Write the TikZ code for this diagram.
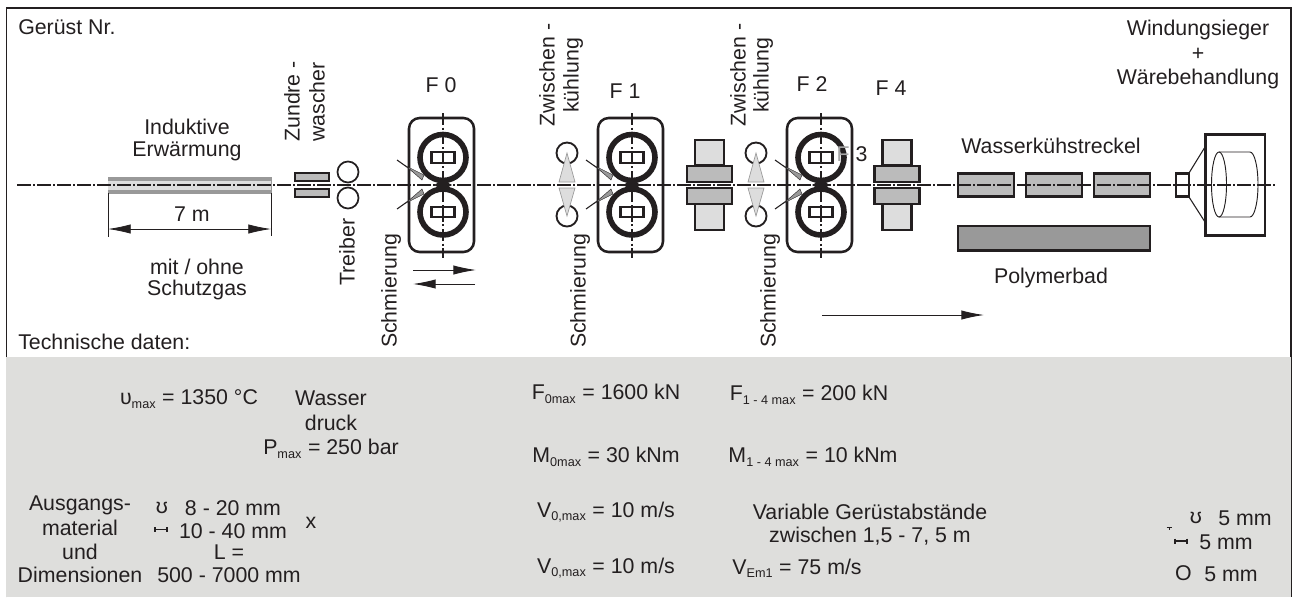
\documentclass[tikz,border=0pt]{standalone}
\usepackage{fontspec}
\setmainfont{Liberation Sans}
\usetikzlibrary{arrows.meta}
\definecolor{ink}{HTML}{231F20}
\definecolor{panel}{HTML}{DEDEDC}
\definecolor{midg}{HTML}{BBBBBB}
\definecolor{darkg}{HTML}{999999}
\definecolor{lightg}{HTML}{DDDDDD}
\newcommand{\sbs}[1]{\textsubscript{\fontsize{9.5pt}{10pt}\selectfont #1}}
\tikzset{
 x=0.75pt,y=-0.75pt,
 lbl/.style={font=\fontsize{16pt}{18pt}\selectfont,text=ink,inner sep=0pt,align=center},
 lleft/.style={lbl,anchor=west},
 vert/.style={lbl,rotate=90},
 axis/.style={ink,line width=1.5pt,dash pattern=on 10.5pt off 1.6pt on 1.3pt off 1.6pt},
 thinaxis/.style={ink,line width=0.9pt,dash pattern=on 9pt off 2pt on 1.5pt off 2pt},
 box/.style={draw=ink,line width=1.9pt},
 housing/.style={draw=ink,line width=1.9pt,rounded corners=8pt},
 roller/.style={draw=ink,line width=4.2pt,fill=white},
 chock/.style={draw=ink,line width=1.7pt,fill=white},
 thin/.style={draw=ink,line width=1pt},
 dim/.style={ink,line width=0.6pt,{Latex[length=17pt,width=7pt]}-{Latex[length=17pt,width=7pt]}},
 oneway/.style={ink,line width=0.7pt,-{Latex[length=17pt,width=7pt]}},
}
\newcommand{\stand}[3]{% left x, centre x, right x
  \draw[housing] (#1,118) rectangle (#3,252);
  \draw[roller] (#2,157.5) circle [radius=23];
  \draw[roller] (#2,212) circle [radius=23];
  \fill[ink] (#2-9,185) -- (#2,180) -- (#2+9,185) -- (#2,190) -- cycle;
  \draw[chock] (#2-11.5,152) rectangle (#2+11.5,163);
  \draw[chock] (#2,152) -- (#2,163);
  \draw[chock] (#2-11.5,207) rectangle (#2+11.5,217);
  \draw[chock] (#2,207) -- (#2,217);
  \draw[thinaxis] (#2,113) -- (#2,258);
  \draw[ink,line width=0.8pt] (#1-12,160) -- (#1+5,172);
  \filldraw[fill=darkg,draw=ink,line width=0.3pt] (#1-3,166) -- (#1+15,175) -- (#1+13,180) -- cycle;
  \draw[ink,line width=0.8pt] (#1-12,209) -- (#1+5,197);
  \filldraw[fill=darkg,draw=ink,line width=0.3pt] (#1-3,203) -- (#1+15,194) -- (#1+13,189) -- cycle;
}
\newcommand{\cooler}[1]{%
  \draw[thin,line width=1.4pt] (#1,153) circle [radius=10.5];
  \draw[thin,line width=1.4pt] (#1,216) circle [radius=10.5];
  \filldraw[fill=lightg,draw=darkg,line width=0.5pt] (#1,153) -- (#1+8,182) -- (#1-8,182) -- cycle;
  \filldraw[fill=lightg,draw=darkg,line width=0.5pt] (#1,216) -- (#1+8,188) -- (#1-8,188) -- cycle;
}
\newcommand{\mill}[1]{% centre x
  \draw[box,fill=lightg] (#1-14.5,140) rectangle (#1+14.5,165);
  \draw[box,fill=lightg] (#1-14.5,204) rectangle (#1+14.5,230);
  \draw[box,fill=midg] (#1-22.5,166) rectangle (#1+22.5,182);
  \draw[box,fill=midg] (#1-22.5,188) rectangle (#1+22.5,204);
}
\begin{document}
\begin{tikzpicture}
\useasboundingbox (0,0) rectangle (1292,597);
\fill[white] (0,0) rectangle (1292,597);
\draw[ink,line width=0.9pt] (6.5,597) -- (6.5,8) -- (1291,8) -- (1291,597);
\fill[panel] (6,357) rectangle (1290.5,597);

% furnace
\filldraw[fill=darkg,draw=darkg,line width=0.5pt] (108,177) rectangle (271,193);
\fill[lightg] (108,180.5) rectangle (271,189.5);
% zundre washer, driver
\draw[box,fill=midg] (295,173) rectangle (329,181);
\draw[box,fill=midg] (295,189) rectangle (329,197);
\draw[thin,line width=1.3pt] (348,172) circle [radius=10.5];
\draw[thin,line width=1.3pt] (348,198) circle [radius=10.5];

\stand{409}{443}{474}
\cooler{567}
\stand{598}{632}{663}
\mill{709.5}
\cooler{756}
\stand{787}{821}{852}
\node[lbl] (t20) at (852,154) {\textcolor{gray!70}{F} 3};
\mill{897}

% water, polymer
\draw[box,fill=midg] (958,173.5) rectangle (1014,196.5);
\draw[box,fill=midg] (1026,173.5) rectangle (1082,196.5);
\draw[box,fill=midg] (1094,173.5) rectangle (1150,196.5);
\draw[box,fill=darkg] (958,226) rectangle (1150,250.5);
% coiler
\draw[box] (1176,173.5) rectangle (1189,196.5);
\draw[thin,line width=0.8pt] (1189,173) -- (1205,147) (1189,197) -- (1205,222);
\draw[box] (1205.5,134.5) rectangle (1265,235.5);
\draw[ink,line width=0.7pt] (1219,184.5) circle [x radius=7.5,y radius=32.5];
\draw[ink,line width=0.7pt] (1219,152) -- (1250,152) arc [start angle=-90,end angle=90,x radius=8,y radius=32.5] -- (1219,217);

% centre line
\draw[axis] (17,185) -- (1275,185);

% dimension
\draw[ink,line width=0.6pt] (108,193) -- (108,237) (271,193) -- (271,236);
\coordinate (dl) at (108,229); \coordinate (dr) at (271,229);
\draw[dim] (dl) -- (dr);
\coordinate (a1) at (413,270); \coordinate (a2) at (476,270);
\draw[oneway] (a1) -- (a2);
\coordinate (b1) at (475,284); \coordinate (b2) at (413,284);
\draw[oneway] (b1) -- (b2);
\coordinate (c1) at (822,315); \coordinate (c2) at (984,315);
\draw[oneway] (c1) -- (c2);

% labels top
\node[lleft] (t1) at (18,27) {Gerüst Nr.};
\node[lbl] (t2) at (187,127) {Induktive};
\node[lbl] (t3) at (187,151) {Erwärmung};
\node[lbl] (t4) at (192,214) {7 m};
\node[lbl] (t5) at (197,267) {mit / ohne};
\node[lbl] (t6) at (197,290) {Schutzgas};
\node[lbl,rotate=90,anchor=west] (t7) at (292,142) {Zundre -};
\node[lbl,rotate=90,anchor=west] (t8) at (317,142) {wascher};
\node[vert] (t9) at (347,252) {Treiber};
\node[vert] (t10) at (391,291) {Schmierung};
\node[vert] (t11) at (580,291) {Schmierung};
\node[vert] (t12) at (770,291) {Schmierung};
\node[lbl,rotate=90,anchor=west] (t13) at (547,127) {Zwischen -};
\node[lbl,rotate=90,anchor=west] (t14) at (573,113) {kühlung};
\node[lbl,rotate=90,anchor=west] (t15) at (738,127) {Zwischen -};
\node[lbl,rotate=90,anchor=west] (t16) at (763,113) {kühlung};
\node[lbl] (t17) at (441,85) {F 0};
\node[lbl] (t18) at (625,91) {F 1};
\node[lbl] (t19) at (812,84) {F 2};
\node[lbl] (t21) at (891,88) {F 4};
\node[lbl] (t22) at (1051,146) {Wasserkühstreckel};
\node[lbl] (t23) at (1051,278) {Polymerbad};
\node[lbl] (t24) at (1198,30) {Windungsieger};
\node[lbl] (t25) at (1198,54) {+};
\node[lbl] (t26) at (1198,79) {Wärebehandlung};
\node[lleft] (t27) at (18,342) {Technische daten:};

% panel text
\node[lbl] (p1) at (189,399) {υ\sbs{max} = 1350 °C};
\node[lbl] (p2) at (331,398) {Wasser};
\node[lbl] (p3) at (331,423) {druck};
\node[lbl] (p4) at (331,449) {P\sbs{max} = 250 bar};
\node[lbl] (p5) at (606,394) {F\sbs{0max} = 1600 kN};
\node[lbl] (p6) at (809,395) {F\sbs{1 - 4 max} = 200 kN};
\node[lbl] (p7) at (606,457) {M\sbs{0max} = 30 kNm};
\node[lbl] (p8) at (813,457) {M\sbs{1 - 4 max} = 10 kNm};
\node[lbl] (p9) at (606,512) {V\sbs{0,max} = 10 m/s};
\node[lbl] (p10) at (870,512) {Variable Gerüstabstände};
\node[lbl] (p11) at (870,536) {zwischen 1,5 - 7, 5 m};
\node[lbl] (p12) at (606,568) {V\sbs{0,max} = 10 m/s};
\node[lbl] (p13) at (797,568) {V\sbs{Em1} = 75 m/s};
\node[lbl] (q1) at (80,505) {Ausgangs-};
\node[lbl] (q2) at (80,528) {material};
\node[lbl] (q3) at (80,552) {und};
\node[lbl] (q4) at (80,575) {Dimensionen};
\node[lbl] (q5) at (162,508) {ʊ};
\node[lbl] (q6) at (233,508) {8 - 20 mm};
\node[lbl] (q7) at (233,531) {10 - 40 mm};
\node[lbl] (q8) at (229,552) {L =};
\node[lbl] (q9) at (229,575) {500 - 7000 mm};
\node[lbl] (q10) at (311,523) {x};
\node[lbl] (r1) at (1196,518) {ʊ};
\node[lbl] (r2) at (1245,518) {5 mm};
\node[lbl] (r3) at (1226,542) {5 mm};
\node[lbl] (r4) at (1183.5,573) {O};
\node[lbl] (r5) at (1231,574) {5 mm};
% flat-bar symbols
\draw[ink,line width=0.9pt] (155,527) -- (155,532) (155,529.5) -- (167,529.5) (167,527) -- (167,532);
\draw[ink,line width=0.9pt] (1175,538.5) -- (1175,543.5) (1175,541) -- (1187,541) (1187,538.5) -- (1187,543.5);
\draw[ink,line width=0.6pt] (1166.5,527.5) -- (1172,527.5) (1169.2,527.5) -- (1169.2,530);
\end{tikzpicture}
\end{document}
